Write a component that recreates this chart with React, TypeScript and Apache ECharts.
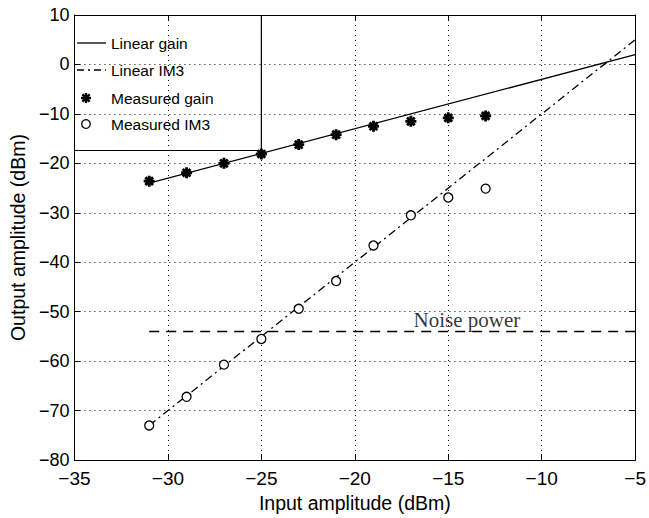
import React, { useEffect, useRef } from "react";
import * as echarts from "echarts";

const inputLevels = [-31, -29, -27, -25, -23, -21, -19, -17, -15, -13];
const measuredGain = [-23.6, -21.9, -20.0, -18.1, -16.2, -14.2, -12.5, -11.5, -10.8, -10.4];
const measuredIM3 = [-73.0, -67.2, -60.7, -55.5, -49.4, -43.8, -36.6, -30.5, -26.9, -25.1];
const linearGainX = [-31, -5];
const linearGainY = [-24, 2];
const linearIM3X = [-31, -5];
const linearIM3Y = [-73, 5];
const noiseX = [-31, -5];
const noiseY = [-54, -54];
const legendBoxX = [-25, -25, -35];
const legendBoxY = [10, -17.4, -17.4];
const noiseLabelPos = [-14.0, -54];
const xRange = [-35, -5];
const yRange = [-80, 10];
const legendNames = ["Linear gain", "Linear IM3", "Measured gain", "Measured IM3"];

const zip = (xs: number[], ys: number[]) => xs.map((x, i) => [x, ys[i]]);

const STAR =
  "path://M-1.3,-5L1.3,-5L1.3,5L-1.3,5Z M-5,-1.3L5,-1.3L5,1.3L-5,1.3Z M-2.6,-4.4L4.4,2.6L2.6,4.4L-4.4,-2.6Z M2.6,-4.4L4.4,-2.6L-2.6,4.4L-4.4,2.6Z";

const SANS = "'Liberation Sans', Arial, sans-serif";
const minus = (v: number) => String(v).replace("-", "\u2212");

function starGraphic(cx: number, cy: number) {
  const r = 5;
  const d = r * 0.72;
  const st = { stroke: "#000", lineWidth: 2.4 };
  return {
    type: "group",
    x: cx,
    y: cy,
    children: [
      { type: "line", shape: { x1: 0, y1: -r, x2: 0, y2: r }, style: st },
      { type: "line", shape: { x1: -r, y1: 0, x2: r, y2: 0 }, style: st },
      { type: "line", shape: { x1: -d, y1: -d, x2: d, y2: d }, style: st },
      { type: "line", shape: { x1: -d, y1: d, x2: d, y2: -d }, style: st },
    ],
  };
}

export default function App() {
  const ref = useRef<HTMLDivElement>(null);
  useEffect(() => {
    if (!ref.current) return;
    const chart = echarts.init(ref.current, undefined, { renderer: "svg" });
    const axisCommon = {
      type: "value" as const,
      axisLine: { show: true, onZero: false, lineStyle: { color: "#000", width: 1 } },
      axisTick: { show: true, inside: true, length: 6, lineStyle: { color: "#000" } },
    };
    const rowY = [43, 70, 98, 124];
    const legendText = legendNames.map((n, i) => ({
      type: "text",
      x: 111,
      y: rowY[i],
      style: {
        text: n,
        fontFamily: SANS,
        fontSize: 15.5,
        fill: "#000",
        verticalAlign: "middle",
        align: "left",
      },
    }));
    chart.setOption({
      animation: false,
      backgroundColor: "#fff",
      grid: { left: 69, right: 6, top: 15, bottom: 52 },
      xAxis: [
        {
          ...axisCommon,
          min: xRange[0],
          max: xRange[1],
          interval: 5,
          name: "Input amplitude (dBm)",
          nameLocation: "middle",
          nameGap: 27,
          nameTextStyle: { fontFamily: SANS, fontSize: 19.5, color: "#000" },
          axisLabel: { formatter: minus, fontFamily: SANS, fontSize: 19, color: "#000", margin: 9 },
          splitLine: { show: true, lineStyle: { color: "#000", type: [1, 4], width: 1 } },
        },
        {
          ...axisCommon,
          position: "top",
          min: xRange[0],
          max: xRange[1],
          interval: 5,
          axisLabel: { show: false },
          splitLine: { show: false },
        },
      ],
      yAxis: [
        {
          ...axisCommon,
          min: yRange[0],
          max: yRange[1],
          interval: 10,
          name: "Output amplitude (dBm)",
          nameLocation: "middle",
          nameGap: 42,
          nameRotate: 90,
          nameTextStyle: { fontFamily: SANS, fontSize: 19.5, color: "#000" },
          axisLabel: { formatter: minus, fontFamily: SANS, fontSize: 18, color: "#000", margin: 5 },
          splitLine: { show: true, lineStyle: { color: "#000", type: [1, 4], width: 1 } },
        },
        {
          ...axisCommon,
          position: "right",
          min: yRange[0],
          max: yRange[1],
          interval: 10,
          axisLabel: { show: false },
          splitLine: { show: false },
        },
      ],
      graphic: [
        {
          type: "line",
          shape: { x1: 77, y1: rowY[0], x2: 106, y2: rowY[0] },
          style: { stroke: "#000", lineWidth: 1.3 },
        },
        {
          type: "line",
          shape: { x1: 77, y1: rowY[1], x2: 106, y2: rowY[1] },
          style: { stroke: "#000", lineWidth: 1.3, lineDash: [7, 4, 2, 4] },
        },
        starGraphic(86, rowY[2]),
        {
          type: "circle",
          shape: { cx: 86, cy: rowY[3], r: 4.3 },
          style: { fill: "#fff", stroke: "#000", lineWidth: 1.3 },
        },
        ...legendText,
      ],
      series: [
        {
          name: "Linear gain",
          type: "line",
          data: zip(linearGainX, linearGainY),
          symbol: "none",
          lineStyle: { color: "#000", width: 1.3, type: "solid" },
          z: 3,
        },
        {
          name: "Linear IM3",
          type: "line",
          data: zip(linearIM3X, linearIM3Y),
          symbol: "none",
          lineStyle: { color: "#000", width: 1.3, type: [8, 4, 2, 4] },
          z: 3,
        },
        {
          name: "Measured gain",
          type: "scatter",
          data: zip(inputLevels, measuredGain),
          symbol: STAR,
          symbolSize: 11,
          itemStyle: { color: "#000", opacity: 1 },
          z: 4,
        },
        {
          name: "Measured IM3",
          type: "scatter",
          data: zip(inputLevels, measuredIM3),
          symbol: "circle",
          symbolSize: 9,
          itemStyle: { color: "#fff", borderColor: "#000", borderWidth: 1.3, opacity: 1 },
          z: 4,
        },
        {
          name: "Noise floor",
          type: "line",
          data: zip(noiseX, noiseY),
          symbol: "none",
          lineStyle: { color: "#000", width: 1.3, type: [10, 7] },
          silent: true,
          z: 3,
        },
        {
          name: "Noise label",
          type: "scatter",
          data: [noiseLabelPos],
          symbolSize: 0,
          silent: true,
          label: {
            show: true,
            position: "top",
            distance: 1,
            formatter: "Noise power",
            fontFamily: "'Liberation Serif', 'Times New Roman', serif",
            fontSize: 21,
            color: "#000",
          },
        },
        {
          name: "Legend box",
          type: "line",
          data: zip(legendBoxX, legendBoxY),
          symbol: "none",
          lineStyle: { color: "#000", width: 1.2 },
          silent: true,
          z: 2,
        },
      ],
    });
    return () => chart.dispose();
  }, []);
  return (
    <div
      ref={ref}
      style={{ position: "fixed", left: 0, top: 0, width: 649, height: 518, background: "#fff" }}
    />
  );
}
